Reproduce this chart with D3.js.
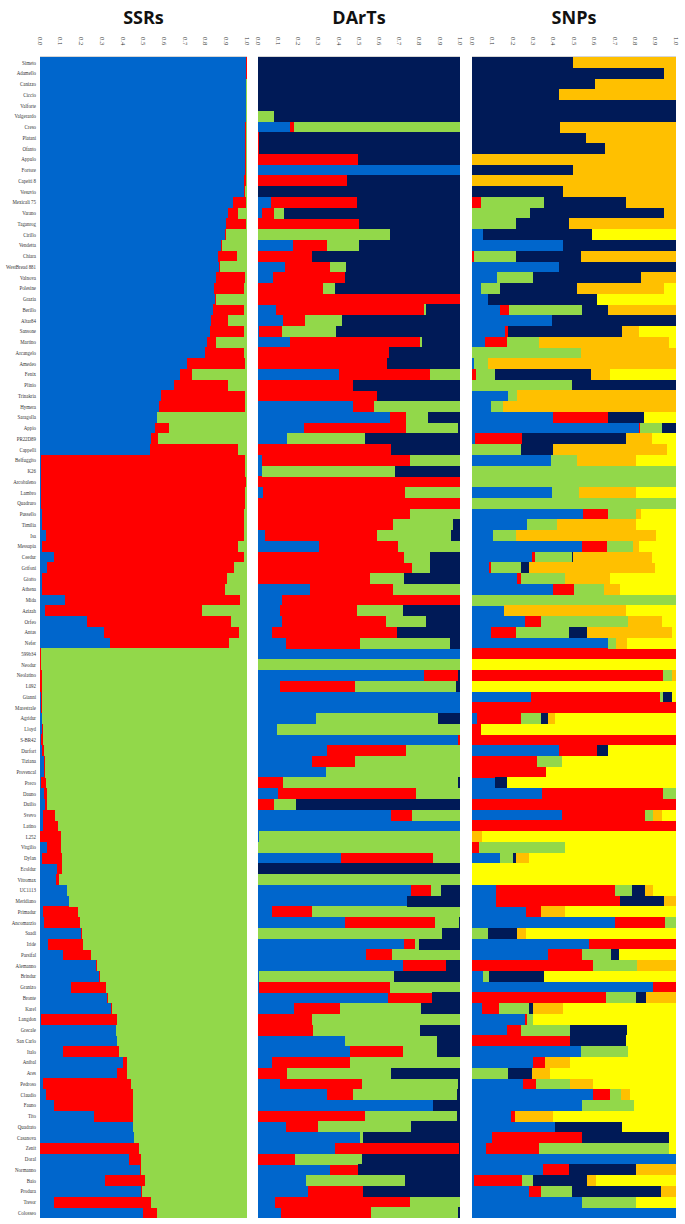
<!DOCTYPE html>
<html>
<head>
<meta charset="utf-8">
<script src="https://cdn.jsdelivr.net/npm/d3@7"></script>
<style>
  body { margin: 0; background: #fff; }
  svg { display: block; }
</style>
</head>
<body>
<svg id="chart" width="685" height="1224"></svg>
<script>
// Population structure plots: SSRs, DArTs, SNPs (membership proportions per cultivar)

var cultivars = ["Simeto","Adamello","Canizzo","Ciccio","Valforte","Valgerardo","Creso","Platani","Ofanto","Appulo",
  "Fortore","Capeiti 8","Vesuvio","Mexicali 75","Varano","Taganrog","Cirillo","Vendetta","Chiara","WestBread 881",
  "Valnova","Polesine","Grazia","Berillo","Altar84","Sansone","Martino","Arcangelo","Amedeo","Fenix",
  "Plinio","Trinakria","Hymera","Saragolla","Appio","PR22D89","Cappelli","Belfuggito","K26","Arcobaleno",
  "Lambro","Quadruro","Pussello","Timilia","Isa","Messapia","Ceedur","Grifoni","Giotto","Athena",
  "Mida","Azizah","Orfeo","Antas","Nefer","599b34","Neodur","Neolatino","L092","Gianni",
  "Marestrale","Agridur","Lloyd","S-BR42","Durfort","Tiziana","Provencal","Preco","Dauno","Duilio",
  "Svevo","Latino","L252","Virgilio","Dylan","Ecoldur","Vitromax","UC1113","Meridiano","Primadur",
  "Ancomarzio","Saadi","Iride","Parsifal","Alemanno","Brindur","Granizo","Bronte","Karel","Langdon",
  "Grecale","San Carlo","Italo","Anibal","Ares","Pedroso","Claudio","Fauno","Tito","Quadrato",
  "Casanova","Zenit","Doral","Normanno","Baio","Produra","Tresor","Colosseo"];

var tickValues = [0, 0.1, 0.2, 0.3, 0.4, 0.5, 0.6, 0.7, 0.8, 0.9, 1.0];

// cluster colours, left to right in each bar
var ssrClusters = ["blue", "red", "green"];
var dartClusters = ["blue", "red", "green", "navy"];
var snpClusters = ["blue", "red", "green", "navy", "orange", "yellow"];
var clusterColor = { blue: "#0066CC", red: "#FF0000", green: "#92D84A", navy: "#001A57", orange: "#FFC000", yellow: "#FFFF00" };

// cumulative break points (last cluster fills to 1)
var ssrBreaks = [
  [0.995,0.998],[0.995,0.998],[0.994,0.997],[0.994,0.997],[0.993,0.997],[0.993,0.996],[0.992,0.996],[0.992,0.995],[0.99,0.995],[0.99,0.994],
  [0.988,0.994],[0.986,0.993],[0.985,0.99],[0.934,0.994],[0.91,0.955],[0.9,0.993],[0.895,0.9],[0.875,0.88],[0.86,0.95],[0.865,0.87],
  [0.85,0.99],[0.842,0.985],[0.845,0.85],[0.835,0.985],[0.825,0.91],[0.82,0.985],[0.805,0.85],[0.795,0.985],[0.71,0.99],[0.676,0.735],
  [0.646,0.908],[0.583,0.99],[0.577,0.99],[0.567,0.567],[0.557,0.622],[0.537,0.57],[0.53,0.955],[0.005,0.99],[0.004,0.99],[0.004,0.995],
  [0.005,0.99],[0.006,0.99],[0.008,0.985],[0.01,0.985],[0.03,0.985],[0.01,0.955],[0.066,0.985],[0.034,0.935],[0.012,0.905],[0.012,0.895],
  [0.12,0.965],[0.026,0.785],[0.225,0.925],[0.31,0.96],[0.338,0.915],[0,0.006],[0.001,0.006],[0.002,0.008],[0.002,0.01],[0.004,0.01],
  [0.005,0.012],[0.01,0.012],[0.01,0.015],[0.004,0.016],[0.012,0.02],[0.02,0.022],[0.02,0.026],[0.005,0.03],[0.02,0.032],[0.025,0.033],
  [0.014,0.073],[0.014,0.085],[0.002,0.1],[0.034,0.1],[0.01,0.105],[0.08,0.105],[0.075,0.09],[0.13,0.132],[0.14,0.142],[0.016,0.185],
  [0.02,0.195],[0.2,0.202],[0.04,0.21],[0.11,0.245],[0.272,0.275],[0.285,0.288],[0.15,0.32],[0.325,0.328],[0.345,0.348],[0.005,0.37],
  [0.365,0.368],[0.37,0.373],[0.11,0.38],[0.4,0.42],[0.37,0.42],[0.014,0.44],[0.03,0.447],[0.07,0.447],[0.26,0.447],[0.447,0.45],
  [0.452,0.455],[0,0.477],[0.432,0.487],[0.483,0.487],[0.312,0.507],[0.49,0.493],[0.066,0.537],[0.497,0.567]
];

var dartBreaks = [
  [0,0,0],[0,0,0],[0,0,0],[0,0,0],[0,0,0],[0,0,0.077],[0.16,0.18,1],[0,0.005,0.005],[0,0.005,0.005],[0,0.495,0.495],
  [1,1,1],[0,0.44,0.44],[0,0,0],[0.063,0.49,0.49],[0.02,0.077,0.128],[0,0.5,0.5],[0,0,0.654],[0.173,0.342,0.5],[0,0.267,0.267],[0.134,0.356,0.438],
  [0.073,0.43,0.43],[0,0.32,0.383],[0,1,1],[0.088,0.82,0.83],[0.122,0.234,0.418],[0.006,0.118,0.387],[0.16,0.8,0.81],[0,0.65,0.65],[0,0.64,0.64],[0.4,0.85,1],
  [0,0.47,0.47],[0,0.59,0.59],[0.47,0.576,1],[0.654,0.733,0.841],[0.226,0.733,0.99],[0.145,0.145,0.53],[0,0.66,0.66],[0.02,0.75,1],[0.02,0.02,0.68],[0,1,1],
  [0.026,0.73,1],[0,1,1],[0,0.75,1],[0,0.67,0.965],[0.037,0.587,0.953],[0.3,0.695,1],[0,0.725,0.85],[0,0.764,0.851],[0,0.556,0.725],[0.257,0.668,1],
  [0.118,1,1],[0.108,0.49,0.72],[0.118,0.633,0.83],[0.067,0.69,0.69],[0.138,0.505,0.95],[1,1,1],[0,0,1],[0.82,0.988,0.988],[0.108,0.479,0.98],[1,1,1],
  [1,1,1],[0.287,0.287,0.892],[0.092,0.092,1],[0.988,1,1],[0.342,0.735,1],[0.267,0.479,1],[0.336,0.336,1],[0,0.122,0.988],[0.098,0.784,1],[0,0.081,0.19],
  [0.658,0.764,1],[1,1,1],[0.005,0.005,1],[0,0,1],[0.413,0.866,1],[0,0,0],[0,0,1],[0.756,0.857,0.908],[0.739,0.739,0.739],[0.071,0.267,1],
  [0.43,0.878,0.994],[0,0,0.912],[0.723,0.776,0.796],[0.536,0.662,1],[0.719,0.933,0.933],[0.006,0.006,0.674],[0.006,0.654,1],[0.642,0.862,0.862],[0.179,0.407,0.807],[0,0.267,1],
  [0,0.274,0.8],[0.43,0.43,0.886],[0.454,0.719,0.886],[0.071,0.454,1],[0,0.143,0.658],[0.108,0.515,0.988],[0.342,0.468,0.985],[0.866,0.866,0.866],[0,0.532,0.985],[0.138,0.297,0.756],
  [0.505,0.505,0.519],[0.383,0.994,0.994],[0,0.183,0.515],[0.356,0.495,0.495],[0.24,0.24,0.729],[0.246,0.519,0.519],[0.083,0.75,1],[0.114,0.56,0.988]
];

var snpBreaks = [
  [0,0,0,0.494,1],[0,0,0,0.94,1],[0,0,0,0.605,1],[0,0,0,0.427,1],[0,0,0,1,1],[0,0,0,1,1],[0,0,0,0.433,1],[0,0,0,0.56,1],[0,0,0,0.65,1],[0,0,0,0,1],
  [0,0,0,0.494,1],[0,0,0,0,1],[0,0,0,0.448,1],[0,0.044,0.353,0.756,1],[0,0,0.282,0.94,1],[0,0,0.218,0.474,1],[0.056,0.056,0.056,0.589,0.589],[0.444,0.444,0.444,1,1],[0,0.01,0.218,0.534,1],[0.427,0.427,0.427,1,1],
  [0.121,0.121,0.298,0.827,1],[0.044,0.044,0.137,0.514,0.94],[0.077,0.077,0.077,0.615,0.615],[0.137,0.181,0.54,0.669,1],[0.393,0.393,0.393,1,1],[0.161,0.177,0.177,0.736,0.817],[0.065,0.171,0.327,0.327,0.968],[0,0,0.534,0.534,1],[0.01,0.01,0.077,0.077,1],[0,0.02,0.111,0.585,0.675],
  [0,0,0.488,1,1],[0.177,0.177,0.222,0.222,1],[0.091,0.091,0.151,0.151,1],[0.399,0.669,0.669,0.843,0.843],[0.817,0.823,0.931,1,1],[0.016,0.246,0.246,0.756,0.883],[0,0,0.238,0.399,0.958],[0.387,0.387,0.514,0.514,0.802],[0,0,1,1,1],[0,0,1,1,1],
  [0.393,0.393,0.524,0.524,0.802],[0,0,1,1,1],[0.544,0.669,0.802,0.802,0.827],[0.272,0.272,0.419,0.419,0.802],[0.105,0.105,0.218,0.218,0.903],[0.54,0.661,0.79,0.79,0.817],[0.292,0.308,0.488,0.494,0.883],[0.081,0.091,0.242,0.278,0.897],[0.222,0.242,0.454,0.454,0.675],[0.399,0.5,0.649,0.649,0.726],
  [0,0,1,1,1],[0.157,0.157,0.157,0.157,0.756],[0.258,0.339,0.766,0.766,0.931],[0.091,0.218,0.474,0.565,0.978],[0.665,0.665,0.706,0.706,0.762],[0,1,1,1,1],[0,0,0,0,0],[0,0.938,0.978,0.978,1],[0,0,0,0,0],[0.288,0.923,0.935,0.982,0.982],
  [0,1,1,1,1],[0.024,0.238,0.339,0.373,0.407],[0,0.044,0.044,0.044,0.044],[0,1,1,1,1],[0.427,0.615,0.615,0.665,0.665],[0,0.319,0.44,0.44,0.44],[0,0.363,0.363,0.363,0.363],[0.111,0.111,0.111,0.171,0.171],[0.343,0.938,1,1,1],[0,1,1,1,1],
  [0.44,0.847,0.887,0.887,0.931],[0,1,1,1,1],[0,0,0,0,0.05],[0,0.036,0.454,0.454,0.454],[0.137,0.137,0.202,0.218,0.278],[0,0,0,0,0],[0,0,0,0,0],[0.117,0.702,0.786,0.85,0.887],[0.117,0.726,0.726,0.94,1],[0.266,0.339,0.339,0.339,0.454],
  [0.702,0.948,1,1,1],[0,0,0.077,0.222,0.266],[0.575,1,1,1,1],[0.373,0.54,0.681,0.722,0.722],[0,0.595,0.81,0.81,1],[0.056,0.056,0.085,0.353,0.353],[0.887,1,1,1,1],[0,0.655,0.806,0.851,1],[0.05,0.131,0.278,0.298,0.448],[0.258,0.272,0.3,0.3,0.3],
  [0.171,0.238,0.48,0.762,0.762],[0,0.48,0.48,0.756,0.756],[0.534,0.534,0.766,0.766,0.766],[0.298,0.359,0.359,0.359,0.48],[0,0,0.177,0.292,0.383],[0.252,0.313,0.48,0.48,0.595],[0.595,0.675,0.73,0.73,0.776],[0.54,0.54,0.796,0.796,0.796],[0.192,0.212,0.212,0.212,0.399],[0.407,0.407,0.407,0.736,0.736],
  [0.097,0.54,0.54,0.968,0.968],[0.071,0.327,0.968,0.968,0.968],[1,1,1,1,1],[0.347,0.474,0.474,0.802,1],[0.01,0.246,0.298,0.565,0.609],[0.278,0.339,0.488,0.927,1],[0.54,0.54,0.802,0.802,0.802],[1,1,1,1,1]
];

var panels = [
  { title: "SSRs", clusters: ssrClusters, breaks: ssrBreaks, x0: 40, x1: 247 },
  { title: "DArTs", clusters: dartClusters, breaks: dartBreaks, x0: 258, x1: 460 },
  { title: "SNPs", clusters: snpClusters, breaks: snpBreaks, x0: 472, x1: 676 }
];

var svg = d3.select("#chart");
var plotTop = 57, plotBottom = 1218;

var y = d3.scaleBand()
  .domain(cultivars)
  .range([plotTop, plotBottom])
  .padding(0);

// turn cumulative breaks into per-cluster proportions
function toRows(breaks, clusters) {
  return breaks.map(function(b, i) {
    var row = { name: cultivars[i] };
    var prev = 0;
    clusters.forEach(function(c, j) {
      var end = j < b.length ? b[j] : 1;
      row[c] = Math.max(0, end - prev);
      prev = Math.max(prev, end);
    });
    return row;
  });
}

panels.forEach(function(p) {
  var x = d3.scaleLinear().domain([0, 1]).range([p.x0, p.x1]);
  var rows = toRows(p.breaks, p.clusters);
  var series = d3.stack().keys(p.clusters)(rows);

  var g = svg.append("g").attr("class", "panel");

  g.selectAll("g.layer")
    .data(series)
    .enter()
    .append("g")
    .attr("class", "layer")
    .attr("fill", function(d) { return clusterColor[d.key]; })
    .selectAll("rect")
    .data(function(d) { return d; })
    .enter()
    .append("rect")
    .attr("x", function(d) { return x(d[0]); })
    .attr("y", function(d) { return y(d.data.name); })
    .attr("width", function(d) { return Math.max(0, x(d[1]) - x(d[0])); })
    .attr("height", y.bandwidth() + 0.3)
    .attr("shape-rendering", "crispEdges");

  // top axis with rotated labels
  g.append("line")
    .attr("x1", x(0)).attr("x2", x(1))
    .attr("y1", plotTop - 0.5).attr("y2", plotTop - 0.5)
    .attr("stroke", "#bbb").attr("stroke-width", 0.6);

  g.selectAll("text.tick")
    .data(tickValues)
    .enter()
    .append("text")
    .attr("class", "tick")
    .attr("transform", function(d) { return "translate(" + x(d) + ",37) rotate(90)"; })
    .attr("dy", "0.35em")
    .style("font-family", "'Liberation Serif', serif")
    .style("font-size", "6.5px")
    .style("fill", "#333")
    .text(d3.format(".1f"));

  g.append("text")
    .attr("x", (p.x0 + p.x1) / 2)
    .attr("y", 24)
    .attr("text-anchor", "middle")
    .style("font-family", "'Open Sans', 'Liberation Sans', sans-serif")
    .style("font-weight", "bold")
    .style("font-size", "18px")
    .style("fill", "#111")
    .text(p.title);
});

// cultivar labels on the left, horizontally condensed
svg.append("g")
  .selectAll("text")
  .data(cultivars)
  .enter()
  .append("text")
  .attr("transform", function(d) { return "translate(36," + (y(d) + y.bandwidth() / 2) + ") scale(0.78,1)"; })
  .attr("dy", "0.35em")
  .attr("text-anchor", "end")
  .style("font-family", "'Liberation Serif', serif")
  .style("font-size", "6.3px")
  .style("fill", "#333")
  .text(function(d) { return d; });
</script>
</body>
</html>
